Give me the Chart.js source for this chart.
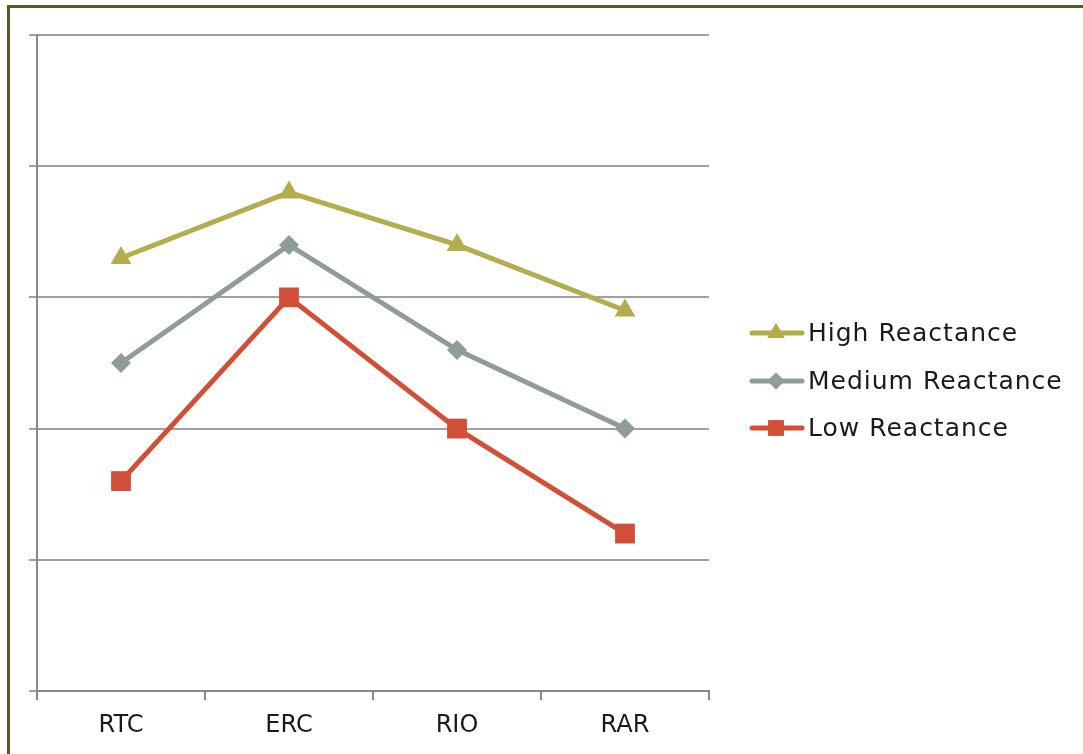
<!DOCTYPE html>
<html><head><meta charset="utf-8">
<script src="https://cdn.jsdelivr.net/npm/chart.js@4/dist/chart.umd.min.js"></script>
<style>html,body{margin:0;padding:0;background:#fff;}#wrap{position:relative;width:1083px;height:754px;}</style>
</head><body><div id="wrap"><canvas id="c" width="1083" height="754"></canvas></div>
<script>
const categories = ["RTC", "ERC", "RIO", "RAR"];
const highReactance = [3.3, 3.8, 3.4, 2.9];
const mediumReactance = [2.5, 3.4, 2.6, 2.0];
const lowReactance = [1.6, 3.0, 2.0, 1.2];
const seriesNames = ["High Reactance", "Medium Reactance", "Low Reactance"];
const yTicks = [0, 1, 2, 3, 4, 5];

const FONT = "'DejaVu Sans', sans-serif";

const frame = {
  id: 'frame',
  beforeDraw(chart) {
    const ctx = chart.ctx;
    ctx.save();
    ctx.fillStyle = '#fff';
    ctx.fillRect(0, 0, chart.width, chart.height);
    ctx.fillStyle = '#585a26';
    ctx.fillRect(7, 5, chart.width - 7, 3);
    ctx.fillRect(7, 5, 3, chart.height - 5);
    ctx.restore();
  }
};

const legendRadius = {triangle: 10, rectRot: 8.5, rect: 11};

const legendPlugin = {
  id: 'customLegend',
  afterDraw(chart) {
    const ctx = chart.ctx;
    ctx.save();
    const rows = [333, 381, 428];
    chart.data.datasets.forEach((ds, i) => {
      const y = rows[i];
      ctx.strokeStyle = ds.borderColor;
      ctx.lineWidth = 5;
      ctx.lineCap = 'round';
      ctx.beginPath();
      ctx.moveTo(752, y);
      ctx.lineTo(802, y);
      ctx.stroke();
      ctx.fillStyle = ds.borderColor;
      Chart.helpers.drawPoint(ctx, {pointStyle: ds.pointStyle, radius: legendRadius[ds.pointStyle], borderWidth: 0}, 776, y);
      ctx.fill();
      ctx.fillStyle = '#1a1a1a';
      ctx.font = '25px ' + FONT;
      try { ctx.letterSpacing = '1px'; } catch (e) {}
      ctx.textBaseline = 'middle';
      ctx.textAlign = 'left';
      ctx.fillText(ds.label, 808, y + 1);
    });
    ctx.restore();
  }
};

new Chart(document.getElementById('c'), {
  type: 'line',
  data: {
    labels: categories,
    datasets: [
      {label: seriesNames[0], data: highReactance, borderColor: '#b3ad4b', backgroundColor: '#b3ad4b', borderWidth: 5, pointStyle: 'triangle', pointRadius: 12, pointBorderWidth: 0},
      {label: seriesNames[1], data: mediumReactance, borderColor: '#8e9d95', backgroundColor: '#8e9d95', borderWidth: 5, pointStyle: 'rectRot', pointRadius: 10, pointBorderWidth: 0},
      {label: seriesNames[2], data: lowReactance, borderColor: '#d24f37', backgroundColor: '#d24f37', borderWidth: 5, pointStyle: 'rect', pointRadius: 14, pointBorderWidth: 0}
    ]
  },
  options: {
    responsive: false,
    animation: false,
    events: [],
    layout: {padding: {left: 0, right: 374, top: 35, bottom: 0}},
    plugins: {legend: {display: false}, tooltip: {enabled: false}},
    elements: {line: {tension: 0}},
    scales: {
      x: {
        offset: true,
        grid: {offset: true, drawOnChartArea: false, drawTicks: true, tickLength: 9, color: '#888', lineWidth: 2},
        border: {color: '#888', width: 2},
        ticks: {color: '#1a1a1a', font: {family: FONT, size: 24}, padding: 11},
        afterFit(scale) { scale.height = 63; }
      },
      y: {
        min: yTicks[0], max: yTicks[yTicks.length - 1],
        afterBuildTicks(scale) { scale.ticks = yTicks.map(v => ({value: v})); },
        grid: {color: '#a0a0a0', lineWidth: 2, tickLength: 8},
        border: {color: '#888', width: 2},
        ticks: {display: false},
        afterFit(scale) { scale.width = 37; }
      }
    }
  },
  plugins: [frame, legendPlugin]
});
</script></body></html>
